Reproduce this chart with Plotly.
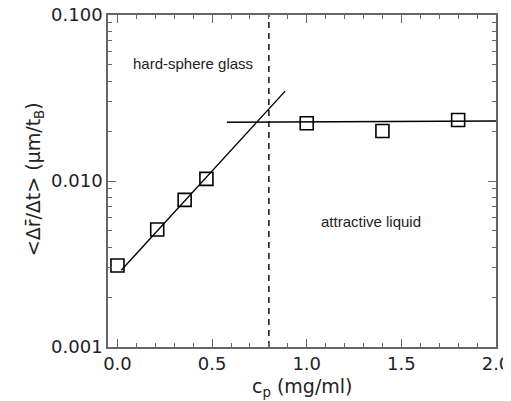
import plotly.graph_objects as go

# data
cp = [0.0, 0.21, 0.355, 0.47, 1.0, 1.4, 1.8]
vel = [0.0031, 0.0051, 0.0077, 0.0103, 0.0223, 0.0200, 0.0233]

fit_glass_x = [0.02, 0.886]
fit_glass_y = [0.0029, 0.0348]
fit_liquid_x = [0.578, 2.0]
fit_liquid_y = [0.0226, 0.0230]

boundary_x = [0.8, 0.8]
boundary_y = [0.001, 0.1]

ytick_vals = [0.001, 0.01, 0.1]
ytick_text = ["0.001", "0.010", "0.100"]
xtick_vals = [0.0, 0.5, 1.0, 1.5, 2.0]
xtick_text = ["0.0", "0.5", "1.0", "1.5", "2.0"]

# minor tick positions
xminor = [round(0.1 * i, 1) for i in range(0, 21)]
yminor = [m * 10.0 ** e for e in (-3, -2) for m in range(2, 10)]

FONT = "DejaVu Sans"
AX = "#666666"
XR = [-0.05, 2.0]
YR = [-3, -1]

fig = go.Figure()
fig.add_trace(go.Scatter(x=fit_glass_x, y=fit_glass_y, mode="lines",
                         line=dict(color="black", width=1.4), showlegend=False))
fig.add_trace(go.Scatter(x=fit_liquid_x, y=fit_liquid_y, mode="lines",
                         line=dict(color="black", width=1.4), showlegend=False))
fig.add_trace(go.Scatter(x=boundary_x, y=boundary_y, mode="lines",
                         line=dict(color="black", width=1.4, dash="6px,5px"), showlegend=False))
fig.add_trace(go.Scatter(x=cp, y=vel, mode="markers", xaxis="x2", yaxis="y2",
                         marker=dict(symbol="square-open", size=13, color="black",
                                     line=dict(width=1.6, color="black")),
                         showlegend=False))

fig.update_layout(
    xaxis=dict(range=XR, tickmode="array", tickvals=xtick_vals, ticktext=xtick_text,
               ticks="inside", ticklen=8, tickwidth=1.2, tickcolor=AX,
               showline=True, linecolor=AX, linewidth=1.5, mirror="ticks",
               showgrid=False, zeroline=False, automargin=False, ticklabeloverflow="allow",
               tickfont=dict(family=FONT, size=18, color="#222")),
    yaxis=dict(type="log", range=YR, tickmode="array", tickvals=ytick_vals, ticktext=ytick_text,
               ticks="inside", ticklen=8, tickwidth=1.2, tickcolor=AX,
               showline=True, linecolor=AX, linewidth=1.5, mirror="ticks",
               showgrid=False, zeroline=False, automargin=False, ticklabeloverflow="allow",
               tickfont=dict(family=FONT, size=18, color="#222")),
    xaxis2=dict(range=XR, overlaying="x", anchor="y2", side="bottom",
                tickmode="array", tickvals=xminor, showticklabels=False,
                ticks="inside", ticklen=4, tickwidth=1.2, tickcolor=AX,
                showline=False, mirror="ticks", showgrid=False, zeroline=False, automargin=False),
    yaxis2=dict(type="log", range=YR, overlaying="y", anchor="x2", side="left",
                tickmode="array", tickvals=yminor, showticklabels=False,
                ticks="inside", ticklen=4, tickwidth=1.2, tickcolor=AX,
                showline=False, mirror="ticks", showgrid=False, zeroline=False, automargin=False),
)

fig.add_annotation(x=0.40, y=-1.295, xref="x", yref="y", text="hard-sphere glass",
                   xanchor="center", yanchor="middle", showarrow=False,
                   font=dict(family="Liberation Sans", size=15, color="#222"))
fig.add_annotation(x=1.34, y=-2.241, xref="x", yref="y", text="attractive liquid",
                   xanchor="center", yanchor="middle", showarrow=False,
                   font=dict(family="Liberation Sans", size=15, color="#222"))

fig.add_annotation(x=0.50, y=-0.121, xref="paper", yref="paper",
                   xanchor="center", yanchor="middle",
                   text="c<sub>p</sub> (mg/ml)", showarrow=False,
                   font=dict(family=FONT, size=19, color="#222"))
fig.add_annotation(x=-0.19, y=0.506, xref="paper", yref="paper", textangle=-90,
                   xanchor="center", yanchor="middle",
                   text="<\u0394r\u0304/\u0394t> (\u03bcm/t<sub>B</sub>)", showarrow=False,
                   font=dict(family=FONT, size=19, color="#222"))

# the page body adds an 8px offset, so the figure is shifted by 8px
fig.update_layout(width=503, height=393, margin=dict(l=100, r=15, t=7, b=54),
                  plot_bgcolor="white", paper_bgcolor="white")

fig.write_html("out.html")
